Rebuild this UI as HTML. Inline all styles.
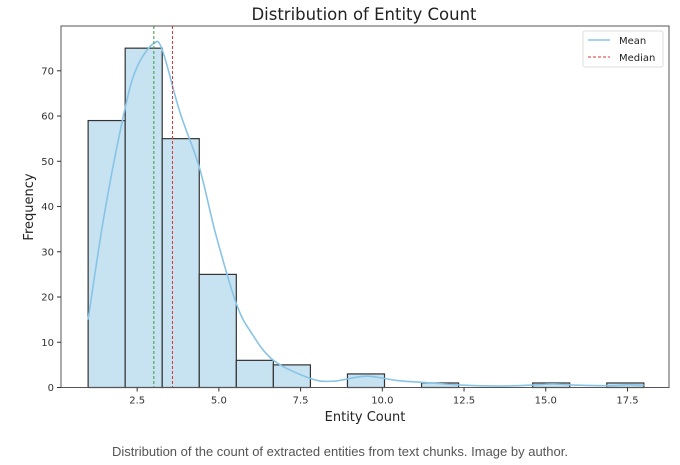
<!DOCTYPE html>
<html><head><meta charset="utf-8"><style>
body{margin:0;background:#fff;width:680px;height:460px;overflow:hidden;font-family:"Liberation Sans","DejaVu Sans",sans-serif}
svg text{font-family:"DejaVu Sans","Liberation Sans",sans-serif}
</style></head><body>
<svg width="680" height="460" viewBox="0 0 680 460" xmlns="http://www.w3.org/2000/svg">
<g id="plot"></g>
<text x="364" y="20" font-size="16.5" text-anchor="middle" fill="#222">Distribution of Entity Count</text>
<text x="365" y="421" font-size="13" text-anchor="middle" fill="#222">Entity Count</text>
<text transform="translate(33,207) rotate(-90)" font-size="13" text-anchor="middle" fill="#222">Frequency</text>
<g>
<rect x="583" y="31" width="80" height="36" rx="2" fill="#fff" stroke="#ddd"/>
<line x1="588" y1="40" x2="610" y2="40" stroke="#87c4e6" stroke-width="1.5"/>
<text x="619" y="44" font-size="10" fill="#222">Mean</text>
<line x1="588" y1="57" x2="610" y2="57" stroke="#e03030" stroke-width="1" stroke-dasharray="3,2"/>
<text x="619" y="61" font-size="10" fill="#222">Median</text>
</g>
<text x="340" y="456" font-size="13" text-anchor="middle" fill="#555" style="font-family:'Liberation Sans',sans-serif">Distribution of the count of extracted entities from text chunks. Image by author.</text>
</svg>
<script>
const binStart = 1, binEnd = 18;
const counts = [59,75,55,25,6,5,0,3,0,1,0,0,1,0,1];
const kdeX = [1,1.5,2.13,2.5,3.0,3.27,3.8,4.4,4.9,5.53,6.0,6.67,7.8,8.5,9.5,10.5,11.5,12.5,13.5,14.5,15.2,16,17,17.5,18];
const kdeY = [15,38.5,61.7,70.9,76,74.6,61,48.7,34,18.6,12,6,2,1.4,2.5,1.5,1,0.5,0.3,0.5,0.8,0.5,0.4,0.6,0.5];
const meanVal = 3.01, medianVal = 3.58;
const xTicks = [2.5,5.0,7.5,10.0,12.5,15.0,17.5];
const yTicks = [0,10,20,30,40,50,60,70];
const L=61,R=669,T=26,B=387.5,xmin=0.17,xmax=18.77,ymax=79.9;
const sx=v=>L+(v-xmin)/(xmax-xmin)*(R-L);
const sy=v=>B-v/ymax*(B-T);
const g=document.getElementById('plot');
const NS='http://www.w3.org/2000/svg';
function mk(t,a){const e=document.createElementNS(NS,t);for(const k in a)e.setAttribute(k,a[k]);g.appendChild(e);return e;}
const w=(binEnd-binStart)/counts.length;
counts.forEach((c,i)=>{if(!c)return;const x0=sx(binStart+i*w),x1=sx(binStart+(i+1)*w);
const r=mk('rect',{x:x0,y:sy(c),width:x1-x0,height:B-sy(c),fill:'#c7e2f0',stroke:'#333','stroke-width':1.2});

});
const pts=kdeX.map((x,i)=>[sx(x),sy(kdeY[i])]);
let d='M'+pts[0][0].toFixed(1)+','+pts[0][1].toFixed(1);
for(let i=0;i<pts.length-1;i++){const p0=pts[Math.max(i-1,0)],p1=pts[i],p2=pts[i+1],p3=pts[Math.min(i+2,pts.length-1)];
const c1=[p1[0]+(p2[0]-p0[0])/6,p1[1]+(p2[1]-p0[1])/6],c2=[p2[0]-(p3[0]-p1[0])/6,p2[1]-(p3[1]-p1[1])/6];
d+='C'+c1.map(v=>v.toFixed(1)).join(',')+' '+c2.map(v=>v.toFixed(1)).join(',')+' '+p2.map(v=>v.toFixed(1)).join(',');}
const k=mk('path',{d:d,fill:'none',stroke:'#87c4e6','stroke-width':1.6,'stroke-linejoin':'round'});


const m1=mk('line',{x1:sx(meanVal),x2:sx(meanVal),y1:T,y2:B,stroke:'#3a9a3a','stroke-width':1,'stroke-dasharray':'3,2'});


const m2=mk('line',{x1:sx(medianVal),x2:sx(medianVal),y1:T,y2:B,stroke:'#e03030','stroke-width':1,'stroke-dasharray':'3,2'});


const fr=mk('rect',{x:L,y:T,width:R-L,height:B-T,fill:'none',stroke:'#555','stroke-width':1});


xTicks.forEach(v=>{mk('line',{x1:sx(v),x2:sx(v),y1:B,y2:B+4,stroke:'#333'});
const t=mk('text',{x:sx(v),y:B+16,'font-size':10,'text-anchor':'middle',fill:'#333'});t.textContent=v.toFixed(1);

});
yTicks.forEach(v=>{mk('line',{x1:L-4,x2:L,y1:sy(v),y2:sy(v),stroke:'#333'});
const t=mk('text',{x:L-7,y:sy(v)+3.5,'font-size':10,'text-anchor':'end',fill:'#333'});t.textContent=v;

});
</script>
</body></html>
